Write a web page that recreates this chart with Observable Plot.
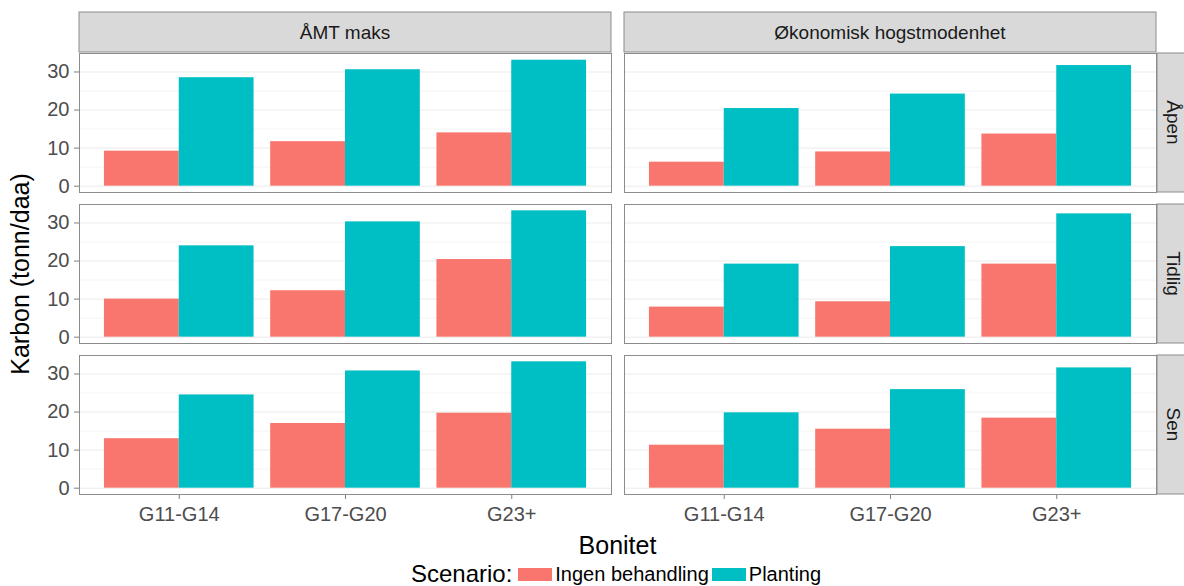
<!DOCTYPE html>
<html>
<head>
<meta charset="utf-8">
<script src="https://cdn.jsdelivr.net/npm/d3@7"></script>
<script src="https://cdn.jsdelivr.net/npm/@observablehq/plot@0.6"></script>
<style>
  body { margin: 0; background: #fff; font-family: "Liberation Sans", Arial, sans-serif; }
  #legend {
    width: 1184px; height: 24px; box-sizing: border-box; padding-left: 51px;
    display: flex; justify-content: center; align-items: center; color: #000;
  }
  #legend .title { font-size: 24px; margin-right: 6px; }
  #legend .swatch { width: 34px; height: 13px; margin-right: 3px; }
  #legend .label { font-size: 20px; margin-right: 3px; }
</style>
</head>
<body>
<div id="chart"></div>
<div id="legend"></div>
<script>
// Facet columns (hogstregime), facet rows (tidspunkt), x categories and series
const hogst = ["ÅMT maks", "Økonomisk hogstmodenhet"];
const timing = ["Åpen", "Tidlig", "Sen"];
const bonitet = ["G11-G14", "G17-G20", "G23+"];
const scenarios = ["Ingen behandling", "Planting"];
const colors = ["#F8766D", "#00BFC4"];
const yTicks = [0, 10, 20, 30];

// Karbon (tonn/daa); one row per tidspunkt (Åpen, Tidlig, Sen), one value per bonitet
const ingenAmtMaks      = [[9.2, 11.7, 14.0], [10.0, 12.2, 20.4], [13.0, 17.0, 19.7]];
const plantingAmtMaks   = [[28.5, 30.6, 33.1], [24.0, 30.3, 33.2], [24.5, 30.8, 33.2]];
const ingenOkonomisk    = [[6.3, 9.0, 13.7], [7.9, 9.3, 19.2], [11.3, 15.5, 18.4]];
const plantingOkonomisk = [[20.4, 24.2, 31.7], [19.2, 23.8, 32.4], [19.8, 25.9, 31.6]];

const series = [
  [hogst[0], scenarios[0], ingenAmtMaks],
  [hogst[0], scenarios[1], plantingAmtMaks],
  [hogst[1], scenarios[0], ingenOkonomisk],
  [hogst[1], scenarios[1], plantingOkonomisk]
];

// Long table; bars are dodged side by side around each bonitet position (1, 2, 3)
const barWidth = 0.45;
const rows = [];
for (const [h, s, values] of series) {
  const si = scenarios.indexOf(s);
  timing.forEach((t, ti) => {
    bonitet.forEach((b, bi) => {
      const x1 = bi + 1 - barWidth + si * barWidth;
      rows.push({hogst: h, timing: t, bonitet: b, scenario: s, value: values[ti][bi], x1, x2: x1 + barWidth});
    });
  });
}

// ggplot-style 5% expansion of the y range [0, max]
const yMax = d3.max(rows, d => d.value);
const yDomain = [-0.05 * yMax, yMax * 1.05];

const W = 1184, H = 562;
const mTop = 52, mRight = 27, mBottom = 66, mLeft = 78;

const chart = Plot.plot({
  width: W,
  height: H,
  marginTop: mTop,
  marginRight: mRight,
  marginBottom: mBottom,
  marginLeft: mLeft,
  style: {fontSize: "20px", fontFamily: "'Liberation Sans', Arial, sans-serif", background: "#fff", color: "#4d4d4d"},
  facet: {data: rows, x: "hogst", y: "timing"},
  fx: {domain: hogst, axis: null, paddingInner: 0.023, paddingOuter: 0},
  fy: {domain: timing, axis: null, paddingInner: 0.077, paddingOuter: 0},
  x: {domain: [0.4, 3.6], ticks: [1, 2, 3], tickFormat: i => bonitet[i - 1], label: null, tickSize: 5, tickPadding: 7},
  y: {domain: yDomain, ticks: yTicks, label: null, tickSize: 5, tickPadding: 5},
  color: {domain: scenarios, range: colors},
  marks: [
    Plot.ruleY([5, 15, 25], {stroke: "#f4f4f4", strokeWidth: 1}),
    Plot.ruleY(yTicks, {stroke: "#ebebeb", strokeWidth: 1}),
    Plot.rectY(rows, {x1: "x1", x2: "x2", y: "value", fill: "scenario"}),
    Plot.frame({stroke: "#8c8c8c", strokeWidth: 1})
  ]
});

document.getElementById("chart").appendChild(chart);

const svg = d3.select(chart);

// Axis tick colours and sizes
svg.selectAll('[aria-label^="x-axis"] line, [aria-label^="x-axis"] path, [aria-label^="y-axis"] line, [aria-label^="y-axis"] path')
  .attr("stroke", "#7f7f7f");
svg.selectAll('[aria-label^="x-axis"] text, [aria-label^="y-axis"] text')
  .attr("fill", "#4d4d4d").style("font-size", "20px");

// Facet strips positioned from the facet scales
function bandOf(name) {
  const s = chart.scale(name);
  if (s && typeof s.apply === "function") return {pos: v => s.apply(v), bw: s.bandwidth};
  const b = d3.scaleBand().domain(s.domain).range(s.range).paddingInner(s.paddingInner ?? 0).paddingOuter(s.paddingOuter ?? 0);
  return {pos: v => b(v), bw: b.bandwidth()};
}
const fx = bandOf("fx"), fy = bandOf("fy");
const strips = svg.append("g").style("font-size", "19px").attr("fill", "#1a1a1a");

for (const h of hogst) {
  const x0 = fx.pos(h);
  strips.append("rect")
    .attr("x", x0).attr("y", 12).attr("width", fx.bw).attr("height", mTop - 12)
    .attr("fill", "#d9d9d9").attr("stroke", "#8c8c8c");
  strips.append("text")
    .attr("x", x0 + fx.bw / 2).attr("y", (12 + mTop) / 2).attr("dy", "0.35em")
    .attr("text-anchor", "middle").attr("fill", "#1a1a1a").text(h);
}
for (const t of timing) {
  const y0 = fy.pos(t);
  strips.append("rect")
    .attr("x", W - mRight).attr("y", y0).attr("width", 40).attr("height", fy.bw)
    .attr("fill", "#d9d9d9").attr("stroke", "#8c8c8c");
  strips.append("text")
    .attr("transform", `translate(${W - mRight + 17},${y0 + fy.bw / 2}) rotate(90)`)
    .attr("dy", "0.35em").attr("text-anchor", "middle").attr("fill", "#1a1a1a").text(t);
}

// Axis titles
svg.append("text")
  .attr("transform", `translate(29,${(mTop + H - mBottom) / 2}) rotate(-90)`)
  .attr("text-anchor", "middle").style("font-size", "25px").attr("fill", "#000")
  .text("Karbon (tonn/daa)");
svg.append("text")
  .attr("x", (mLeft + W - mRight) / 2).attr("y", 554)
  .attr("text-anchor", "middle").style("font-size", "25px").attr("fill", "#000")
  .text("Bonitet");

// Legend below the plot
const legend = d3.select("#legend");
legend.append("span").attr("class", "title").text("Scenario:");
scenarios.forEach((s, i) => {
  legend.append("span").attr("class", "swatch").style("background", colors[i]);
  legend.append("span").attr("class", "label").text(s);
});
</script>
</body>
</html>
